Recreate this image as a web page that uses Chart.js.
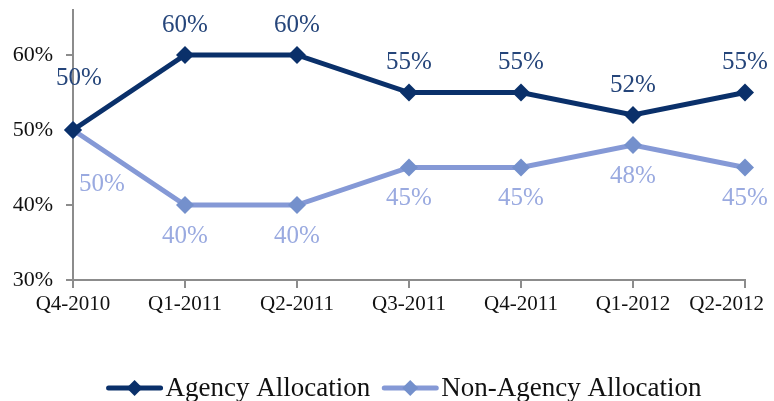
<!DOCTYPE html>
<html>
<head>
<meta charset="utf-8">
<script src="https://cdn.jsdelivr.net/npm/chart.js@4/dist/chart.umd.min.js"></script>
<style>
  html, body { margin: 0; padding: 0; background: #fff; }
  #wrap { width: 774px; height: 401px; }
</style>
</head>
<body>
<div id="wrap"><canvas id="c" width="774" height="401"></canvas></div>
<script>
// données
var quarters = ['Q4-2010', 'Q1-2011', 'Q2-2011', 'Q3-2011', 'Q4-2011', 'Q1-2012', 'Q2-2012'];
var agency = [50, 60, 60, 55, 55, 52, 55];
var nonAgency = [50, 40, 40, 45, 45, 48, 45];
var yTicks = [30, 40, 50, 60];

var serif = '"Liberation Serif", "DejaVu Serif", serif';
var dark = '#0A306A';
var light = '#8599D6';

// étiquettes de valeurs au-dessus / en dessous des points
var labelPlugin = {
  id: 'valeurs',
  afterDatasetsDraw: function(chart) {
    var ctx = chart.ctx;
    ctx.save();
    ctx.font = '25px ' + serif;
    ctx.textAlign = 'center';
    ctx.textBaseline = 'middle';
    chart.data.datasets.forEach(function(ds, di) {
      var meta = chart.getDatasetMeta(di);
      meta.data.forEach(function(pt, i) {
        var dx = 0, dy = di === 0 ? -30 : 31;
        if (i === 0) { dx = di === 0 ? 6 : 29; dy = di === 0 ? -52 : 54; }
        ctx.fillStyle = di === 0 ? '#25457A' : '#9AAAE0';
        ctx.fillText(ds.data[i] + '%', pt.x + dx, pt.y + dy);
      });
    });
    ctx.restore();
  }
};

// légende maison : trait + losange
var legendPlugin = {
  id: 'legende',
  afterDraw: function(chart) {
    var ctx = chart.ctx;
    ctx.save();
    ctx.font = '27px ' + serif;
    ctx.textBaseline = 'middle';
    var lineW = 56, gap = 3, between = 12;
    var items = chart.data.datasets.map(function(ds) {
      return { ds: ds, w: lineW + gap + ctx.measureText(ds.label).width };
    });
    var total = items[0].w + between + items[1].w;
    var x = 404 - total / 2;
    var y = 388;
    items.forEach(function(it) {
      ctx.strokeStyle = it.ds.borderColor;
      ctx.lineWidth = 5;
      ctx.lineCap = 'round';
      ctx.beginPath();
      ctx.moveTo(x + 2, y);
      ctx.lineTo(x + lineW - 2, y);
      ctx.stroke();
      var cx = x + lineW / 2, r = 8;
      ctx.fillStyle = it.ds.pointBackgroundColor;
      ctx.beginPath();
      ctx.moveTo(cx, y - r); ctx.lineTo(cx + r, y); ctx.lineTo(cx, y + r); ctx.lineTo(cx - r, y);
      ctx.closePath();
      ctx.fill();
      ctx.fillStyle = '#111';
      ctx.fillText(it.ds.label, x + lineW + gap, y + 1);
      x += it.w + between;
    });
    ctx.restore();
  }
};

new Chart(document.getElementById('c'), {
  type: 'line',
  data: {
    labels: quarters,
    datasets: [{
      label: 'Agency Allocation',
      data: agency,
      borderColor: dark,
      backgroundColor: dark,
      pointBackgroundColor: dark,
      pointBorderColor: dark,
      borderWidth: 5,
      pointStyle: 'rectRot',
      pointRadius: 9,
      pointBorderWidth: 0,
      tension: 0
    }, {
      label: 'Non-Agency Allocation',
      data: nonAgency,
      borderColor: light,
      backgroundColor: '#7490CC',
      pointBackgroundColor: '#7490CC',
      pointBorderColor: '#7490CC',
      borderWidth: 5,
      pointStyle: 'rectRot',
      pointRadius: 9,
      pointBorderWidth: 0,
      tension: 0
    }]
  },
  options: {
    responsive: false,
    animation: false,
    layout: { padding: { left: 0, right: 29, top: 10, bottom: 0 } },
    plugins: {
      legend: { display: false },
      tooltip: { enabled: false }
    },
    scales: {
      x: {
        offset: false,
        grid: { display: true, drawOnChartArea: false, drawTicks: true, tickLength: 8, color: '#8C8C8C', lineWidth: 2 },
        border: { color: '#8C8C8C', width: 2 },
        ticks: {
          color: '#111', font: { family: serif, size: 21 }, padding: 4, maxRotation: 0, autoSkip: false,
          // dernier libellé décalé vers la gauche comme dans Excel
          callback: function(v, i) {
            var t = this.getLabelForValue(v);
            return i === quarters.length - 1 ? t + '\u00a0\u00a0\u00a0\u00a0\u00a0\u00a0\u00a0' : t;
          }
        },
        afterFit: function(s) { s.height = 121; s.paddingLeft = 0; s.paddingRight = 0; }
      },
      y: {
        min: 30,
        max: 66,
        grid: { display: true, drawOnChartArea: false, drawTicks: true, tickLength: 7, color: '#8C8C8C', lineWidth: 2 },
        border: { color: '#8C8C8C', width: 2 },
        ticks: {
          color: '#111', font: { family: serif, size: 22 }, padding: 13,
          callback: function(v) { return v + '%'; }
        },
        afterBuildTicks: function(s) {
          s.ticks = yTicks.map(function(v) { return { value: v }; });
        },
        afterFit: function(s) { s.width = 73; s.paddingTop = 0; s.paddingBottom = 0; }
      }
    }
  },
  plugins: [labelPlugin, legendPlugin]
});
</script>
</body>
</html>
